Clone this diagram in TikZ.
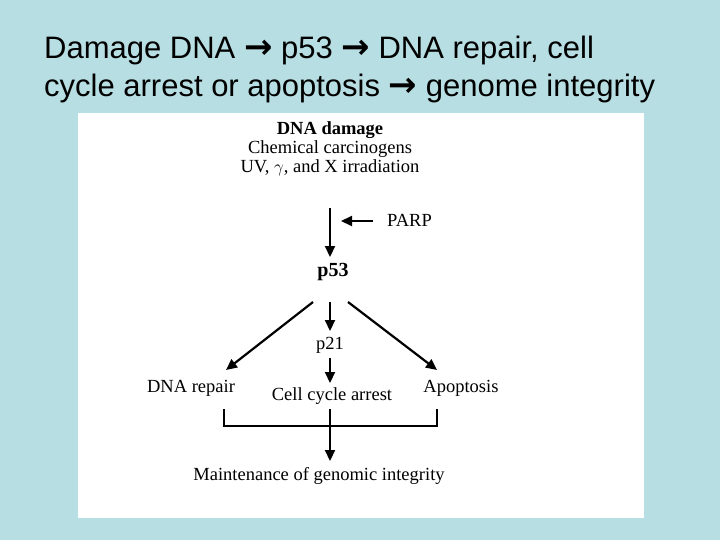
\documentclass[tikz,border=0pt]{standalone}
\usepackage{fontspec}
\setmainfont{Liberation Serif}
\newfontfamily\titlefont{Liberation Sans}
\newfontfamily\arrfont{DejaVu Sans}
\usetikzlibrary{arrows.meta}
\definecolor{bg}{RGB}{183,222,226}
\begin{document}
\begin{tikzpicture}[x=1pt,y=-1pt,
  lbl/.style={inner sep=0pt,font=\fontsize{18.5}{20}\selectfont},
  arr/.style={line width=2.2pt,-{Triangle[length=11pt,width=10pt]}},
  ttl/.style={inner sep=0pt,anchor=west,font=\titlefont\fontsize{31}{34}\selectfont}]
\fill[bg] (0,0) rectangle (720,540);
\fill[white] (78,113) rectangle (644,518);
\node[ttl] (t1) at (44,50) {Damage DNA {\arrfont\bfseries\fontsize{34}{34}\selectfont→} p53 {\arrfont\bfseries\fontsize{34}{34}\selectfont→} DNA repair, cell};
\node[ttl] (t2) at (44,88) {cycle arrest or apoptosis {\arrfont\bfseries\fontsize{34}{34}\selectfont→} genome integrity};
\node[lbl,font=\fontsize{18.5}{20}\selectfont\bfseries] (dd) at (330,130) {DNA damage};
\node[lbl] (cc) at (330,149) {Chemical carcinogens};
\node[lbl] (uv) at (330,168) {UV, $\gamma$, and X irradiation};
\coordinate (a1) at (330,208);
\node[lbl,font=\fontsize{20}{22}\selectfont\bfseries] (p53) at (333,272) {p53};
\node[lbl,anchor=west] (parp) at (387,220) {PARP};
\coordinate (pj) at (341,221);
\node[lbl] (p21) at (330,345) {p21};
\node[lbl] (rep) at (191,388) {DNA repair};
\node[lbl] (cca) at (332,396) {Cell cycle arrest};
\node[lbl] (apo) at (461,388) {Apoptosis};
\node[lbl] (mgi) at (319,476) {Maintenance of genomic integrity};
\draw[arr] (a1) -- (330,257);
\draw[arr] (373,221) -- (pj);
\draw[arr] (313,302) -- (226,370);
\draw[arr] (330,302) -- (330,331);
\draw[arr] (348,302) -- (437,370);
\draw[arr] (330,358) -- (330,383);
\draw[line width=2.2pt] (224,409) -- (224,426) -- (437,426) -- (437,409);
\draw[arr] (330,409) -- (330,461);
\end{tikzpicture}
\end{document}
